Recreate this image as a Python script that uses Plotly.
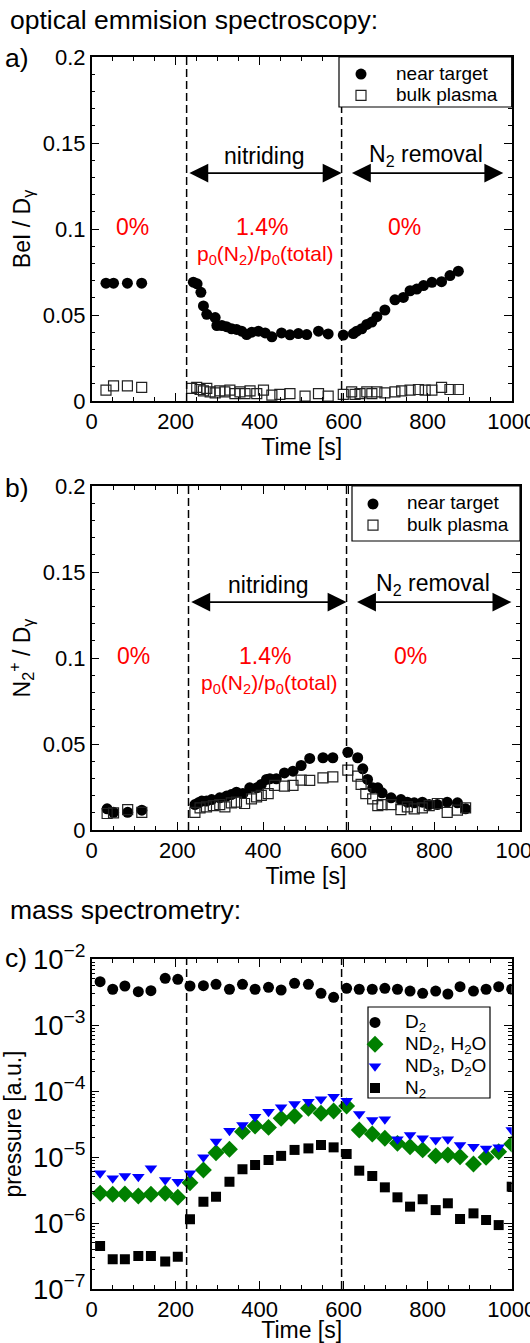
import plotly.graph_objects as go

# ---------------- data ----------------
# panel a: BeI / D_gamma
a_near_t = [34, 52, 85, 119, 242, 251, 260, 266, 274, 294, 298, 310, 321, 333, 345, 357, 369, 381, 397, 413,
            429, 452, 472, 492, 512, 540, 563, 599, 623, 631, 643, 655, 667, 679, 698, 722, 742, 758, 774, 790,
            810, 833, 853, 873]
a_near_v = [0.0685, 0.0685, 0.0685, 0.0685, 0.0691, 0.0681, 0.0632, 0.0553, 0.0504, 0.0485, 0.0439, 0.0439,
            0.0432, 0.0420, 0.0416, 0.0406, 0.0386, 0.0400, 0.0406, 0.0396, 0.0373, 0.0396, 0.0385, 0.0392,
            0.0386, 0.0406, 0.0390, 0.0383, 0.0392, 0.0406, 0.0420, 0.0445, 0.0459, 0.0490, 0.0529, 0.0588,
            0.0602, 0.0641, 0.0651, 0.0671, 0.0690, 0.0694, 0.0729, 0.0755]
a_bulk_t = [34, 52, 85, 119, 238, 250, 258, 266, 274, 282, 294, 305, 317, 329, 341, 353, 365, 377, 393, 409,
            429, 448, 472, 508, 540, 563, 599, 619, 627, 639, 655, 667, 679, 698, 722, 738, 758, 778, 794, 810,
            833, 853, 873]
a_bulk_v = [0.0063, 0.0088, 0.0088, 0.0079, 0.0073, 0.0079, 0.0067, 0.0059, 0.0073, 0.0053, 0.0047, 0.0059,
            0.0053, 0.0063, 0.0043, 0.0053, 0.0043, 0.0059, 0.0043, 0.0063, 0.0034, 0.0039, 0.0043, 0.0028,
            0.0043, 0.0028, 0.0039, 0.0053, 0.0039, 0.0043, 0.0053, 0.0043, 0.0053, 0.0047, 0.0053, 0.0059,
            0.0063, 0.0067, 0.0063, 0.0063, 0.0079, 0.0067, 0.0067]

# panel b: N2+ / D_gamma
b_near_t = [36, 51, 84, 117, 241, 249, 257, 268, 280, 299, 315, 326, 338, 353, 369, 385, 396, 408, 416, 431,
            450, 470, 489, 509, 540, 563, 598, 621, 633, 644, 656, 668, 678, 699, 722, 737, 753, 772, 788, 807,
            830, 854, 873]
b_near_v = [0.0123, 0.0103, 0.0103, 0.0115, 0.0148, 0.0158, 0.0168, 0.0168, 0.0177, 0.0187, 0.0197, 0.0206,
            0.0220, 0.0212, 0.0245, 0.0245, 0.0265, 0.0294, 0.0298, 0.0298, 0.0332, 0.0342, 0.0375, 0.0416,
            0.0420, 0.0420, 0.0452, 0.0420, 0.0356, 0.0294, 0.0245, 0.0245, 0.0216, 0.0187, 0.0177, 0.0162,
            0.0158, 0.0162, 0.0148, 0.0148, 0.0162, 0.0158, 0.0123]
b_bulk_t = [36, 51, 84, 117, 241, 253, 268, 284, 299, 311, 326, 338, 357, 373, 385, 396, 412, 427, 450, 470,
            489, 509, 540, 563, 598, 621, 629, 640, 656, 668, 678, 699, 722, 737, 753, 772, 788, 807, 830, 854, 873]
b_bulk_v = [0.0096, 0.0100, 0.0119, 0.0103, 0.0103, 0.0129, 0.0135, 0.0142, 0.0148, 0.0135, 0.0158, 0.0162,
            0.0154, 0.0181, 0.0193, 0.0201, 0.0212, 0.0259, 0.0255, 0.0259, 0.0290, 0.0288, 0.0303, 0.0309,
            0.0348, 0.0313, 0.0265, 0.0212, 0.0181, 0.0142, 0.0148, 0.0148, 0.0119, 0.0135, 0.0123, 0.0129,
            0.0142, 0.0154, 0.0103, 0.0115, 0.0129]

# panel c: mass spectrometry
ms_t = [20, 50, 79, 111, 141, 175, 205, 234, 266, 296, 328, 359, 389, 421, 451, 483, 516, 546, 576, 607,
        637, 668, 698, 728, 758, 788, 819, 848, 877, 909, 939, 969, 1000]
ms_d2 = [4.53e-3, 3.48e-3, 3.90e-3, 3.20e-3, 3.31e-3, 5.09e-3, 4.92e-3, 3.90e-3, 3.94e-3, 4.13e-3, 3.48e-3,
         4.13e-3, 3.48e-3, 3.73e-3, 3.39e-3, 4.28e-3, 4.13e-3, 3.02e-3, 2.63e-3, 3.60e-3, 3.48e-3, 3.48e-3,
         3.60e-3, 3.48e-3, 3.27e-3, 3.02e-3, 3.27e-3, 2.95e-3, 3.81e-3, 3.27e-3, 3.48e-3, 3.81e-3, 3.48e-3]
ms_nd2 = [2.82e-6, 2.72e-6, 2.75e-6, 2.56e-6, 2.72e-6, 2.82e-6, 2.45e-6, 4.08e-6, 6.35e-6, 1.16e-5, 1.31e-5,
          2.42e-5, 2.95e-5, 2.81e-5, 3.85e-5, 4.18e-5, 5.46e-5, 4.59e-5, 4.98e-5, 5.93e-5, 2.56e-5, 2.23e-5,
          1.92e-5, 1.61e-5, 1.43e-5, 1.28e-5, 1.04e-5, 1.07e-5, 1.01e-5, 7.83e-6, 9.90e-6, 1.20e-5, 1.57e-5]
ms_nd3 = [5.66e-6, 4.75e-6, 5.15e-6, 5.04e-6, 6.73e-6, 4.48e-6, 4.23e-6, 5.66e-6, 9.90e-6, 1.71e-5, 2.50e-5,
          3.05e-5, 4.08e-5, 4.86e-5, 5.66e-5, 6.35e-5, 6.89e-5, 7.48e-5, 8.20e-5, 7.13e-5, 4.49e-5, 3.64e-5,
          3.72e-5, 1.85e-5, 2.15e-5, 1.92e-5, 1.81e-5, 1.85e-5, 1.52e-5, 1.43e-5, 1.35e-5, 1.40e-5, 2.56e-5]
ms_n2 = [4.49e-7, 2.82e-7, 2.82e-7, 3.16e-7, 3.16e-7, 2.60e-7, 3.09e-7, 1.14e-6, 2.10e-6, 2.50e-6, 4.23e-6,
         6.50e-6, 7.57e-6, 9.00e-6, 1.04e-5, 1.28e-5, 1.35e-5, 1.52e-5, 1.40e-5, 1.11e-5, 6.21e-6, 5.15e-6,
         3.47e-6, 2.45e-6, 1.77e-6, 2.29e-6, 1.57e-6, 1.99e-6, 1.15e-6, 1.40e-6, 1.11e-6, 9.30e-7, 3.55e-6]

phase_bounds = [226, 595]
x_ticks = [0, 200, 400, 600, 800, 1000]

# ---------------- layout helpers ----------------
W, H = 530, 1343
FONT = "Liberation Sans, Arial, sans-serif"


def fx(p):
    return p / W


def fy(p):
    return 1 - p / H


def lname(s):
    return '<span style="font-size:19px">' + s + "</span>"


fig = go.Figure()

# panel a
fig.add_trace(go.Scatter(x=a_near_t, y=a_near_v, mode="markers", name=lname("near target"),
                         marker=dict(symbol="circle", size=11, color="black"),
                         xaxis="x", yaxis="y", legend="legend"))
fig.add_trace(go.Scatter(x=a_bulk_t, y=a_bulk_v, mode="markers", name=lname("bulk plasma"),
                         marker=dict(symbol="square-open", size=10, color="#222", line=dict(width=1.2)),
                         xaxis="x", yaxis="y", legend="legend"))
# panel b
fig.add_trace(go.Scatter(x=b_near_t, y=b_near_v, mode="markers", name=lname("near target"),
                         marker=dict(symbol="circle", size=11, color="black"),
                         xaxis="x2", yaxis="y2", legend="legend2"))
fig.add_trace(go.Scatter(x=b_bulk_t, y=b_bulk_v, mode="markers", name=lname("bulk plasma"),
                         marker=dict(symbol="square-open", size=10, color="#222", line=dict(width=1.2)),
                         xaxis="x2", yaxis="y2", legend="legend2"))
# panel c
fig.add_trace(go.Scatter(x=ms_t, y=ms_d2, mode="markers", name=lname("D<sub>2</sub>"),
                         marker=dict(symbol="circle", size=11, color="black"),
                         xaxis="x3", yaxis="y3", legend="legend3"))
fig.add_trace(go.Scatter(x=ms_t, y=ms_nd2, mode="markers", name=lname("ND<sub>2</sub>, H<sub>2</sub>O"),
                         marker=dict(symbol="diamond", size=13, color="rgb(0,128,0)"),
                         xaxis="x3", yaxis="y3", legend="legend3"))
fig.add_trace(go.Scatter(x=ms_t, y=ms_nd3, mode="markers", name=lname("ND<sub>3</sub>, D<sub>2</sub>O"),
                         marker=dict(symbol="triangle-down", size=11, color="rgb(0,0,255)"),
                         xaxis="x3", yaxis="y3", legend="legend3"))
fig.add_trace(go.Scatter(x=ms_t, y=ms_n2, mode="markers", name=lname("N<sub>2</sub>"),
                         marker=dict(symbol="square", size=10, color="black"),
                         xaxis="x3", yaxis="y3", legend="legend3"))

tickfont = dict(family=FONT, size=22, color="black")
titlefont = dict(family=FONT, size=23, color="black")


def xaxis_cfg(left, right, anchor, standoff=6):
    return dict(domain=[fx(left), fx(right)], anchor=anchor, range=[0, 1000],
                tickvals=x_ticks, ticks="inside", ticklen=8, tickwidth=1.2, tickcolor="black",
                minor=dict(dtick=50, ticks="inside", ticklen=4, tickwidth=1, tickcolor="black"),
                showline=True, linecolor="black", linewidth=1.5, mirror="ticks",
                showgrid=False, zeroline=False, tickfont=tickfont, ticklabeloverflow="allow",
                title=dict(text="Time [s]", font=titlefont, standoff=standoff), automargin=False)


def yaxis_lin(top, bottom, anchor, title):
    return dict(domain=[fy(bottom), fy(top)], anchor=anchor, range=[0, 0.2],
                tickvals=[0, 0.05, 0.1, 0.15, 0.2], ticktext=["0", "0.05", "0.1", "0.15", "0.2"],
                ticks="inside", ticklen=8, tickwidth=1.2, tickcolor="black",
                minor=dict(dtick=0.01, ticks="inside", ticklen=4, tickwidth=1, tickcolor="black"),
                showline=True, linecolor="black", linewidth=1.5, mirror="ticks",
                showgrid=False, zeroline=False, tickfont=tickfont, ticklabeloverflow="allow",
                title=dict(text=title, font=titlefont, standoff=6), automargin=False)


leg_common = dict(xanchor="left", yanchor="top", borderwidth=0, bgcolor="rgba(0,0,0,0)")

fig.update_layout(
    width=W, height=H, margin=dict(l=0, r=0, t=0, b=0),
    paper_bgcolor="white", plot_bgcolor="white",
    font=dict(family=FONT, color="black"),
    xaxis=xaxis_cfg(91.7, 511.7, "y"),
    yaxis=yaxis_lin(57, 401, "x", "BeI / D<sub>γ</sub>"),
    xaxis2=xaxis_cfg(91.7, 520, "y2"),
    yaxis2=yaxis_lin(486, 830, "x2", "N<sub>2</sub><sup>+</sup> / D<sub>γ</sub>"),
    xaxis3=xaxis_cfg(91.7, 511.7, "y3", standoff=3),
    yaxis3=dict(domain=[fy(1289), fy(959)], anchor="x3", type="log", range=[-7, -2], dtick=1,
                exponentformat="power", showexponent="all",
                ticks="inside", ticklen=8, tickwidth=1.2, tickcolor="black",
                minor=dict(ticks="inside", ticklen=4, tickwidth=1, tickcolor="black", dtick="D1"),
                showline=True, linecolor="black", linewidth=1.5, mirror="ticks",
                showgrid=False, zeroline=False, tickfont=tickfont, ticklabeloverflow="allow",
                title=dict(text="pressure [a.u.]", font=titlefont, standoff=6), automargin=False),
    legend=dict(x=fx(326), y=fy(58.5), itemwidth=60,
                font=dict(family=FONT, size=14, color="black"), **leg_common),
    legend2=dict(x=fx(339), y=fy(488.4), itemwidth=58,
                 font=dict(family=FONT, size=14, color="black"), **leg_common),
    legend3=dict(x=fx(345), y=fy(1006.5), itemwidth=50,
                 font=dict(family=FONT, size=14.5, color="black"), **leg_common),
    showlegend=True,
)

shapes = []
for xr, yr in [("x", "y"), ("x2", "y2"), ("x3", "y3")]:
    for b in phase_bounds:
        shapes.append(dict(type="line", xref=xr, yref=yr + " domain", x0=b, x1=b, y0=0, y1=1,
                           line=dict(color="black", width=1.5, dash="8px,4px")))
# legend frames
for (l, t, r, btm) in [(339, 57, 511.7, 107), (352, 486, 520, 541), (368, 1007, 490, 1098)]:
    shapes.append(dict(type="rect", xref="paper", yref="paper", x0=fx(l), x1=fx(r), y0=fy(btm), y1=fy(t),
                       line=dict(color="black", width=1.2), fillcolor="white", layer="above"))
fig.update_layout(shapes=shapes)

ann = []
red = dict(family=FONT, size=23, color="red")
blk = dict(family=FONT, size=23, color="black")
for xr, yr in [("x", "y"), ("x2", "y2")]:
    ann.append(dict(xref=xr, yref=yr, axref=xr, ayref=yr, x=595, y=0.1325, ax=229, ay=0.1325, text="",
                    showarrow=True, arrowside="end+start", arrowhead=2, arrowsize=2.1, arrowwidth=1.8,
                    arrowcolor="black", standoff=0, startstandoff=0))
    ann.append(dict(xref=xr, yref=yr, axref=xr, ayref=yr, x=980, y=0.1325, ax=616, ay=0.1325, text="",
                    showarrow=True, arrowside="end+start", arrowhead=2, arrowsize=2.1, arrowwidth=1.8,
                    arrowcolor="black", standoff=0, startstandoff=0))
    ann.append(dict(xref=xr, yref=yr, x=412, y=0.1425, text="nitriding", showarrow=False, font=blk))
    ann.append(dict(xref=xr, yref=yr, x=797, y=0.1425, text="N<sub>2</sub> removal", showarrow=False, font=blk))
    ann.append(dict(xref=xr, yref=yr, x=98, y=0.101, text="0%", showarrow=False, font=red))
    ann.append(dict(xref=xr, yref=yr, x=405, y=0.101, text="1.4%", showarrow=False, font=red))
    ann.append(dict(xref=xr, yref=yr, x=745, y=0.101, text="0%", showarrow=False, font=red))
    ann.append(dict(xref=xr, yref=yr, x=414, y=0.0848,
                    text="p<sub>0</sub>(N<sub>2</sub>)/p<sub>0</sub>(total)", showarrow=False,
                    font=dict(family=FONT, size=21, color="red")))

hdr = dict(family=FONT, size=26.5, color="black")
ann.append(dict(xref="paper", yref="paper", x=fx(8), y=fy(20), xanchor="left", yanchor="middle",
                text="optical emmision spectroscopy:", showarrow=False, font=hdr))
ann.append(dict(xref="paper", yref="paper", x=fx(3), y=fy(58), xanchor="left", yanchor="middle",
                text="a)", showarrow=False, font=hdr))
ann.append(dict(xref="paper", yref="paper", x=fx(3), y=fy(488), xanchor="left", yanchor="middle",
                text="b)", showarrow=False, font=hdr))
ann.append(dict(xref="paper", yref="paper", x=fx(8), y=fy(910), xanchor="left", yanchor="middle",
                text="mass spectrometry:", showarrow=False, font=hdr))
ann.append(dict(xref="paper", yref="paper", x=fx(3), y=fy(958), xanchor="left", yanchor="middle",
                text="c)", showarrow=False, font=hdr))
fig.update_layout(annotations=ann)

fig.write_html("out.html", config={"displayModeBar": False},
               post_script="document.body.style.margin='0';document.body.style.overflow='hidden';")
